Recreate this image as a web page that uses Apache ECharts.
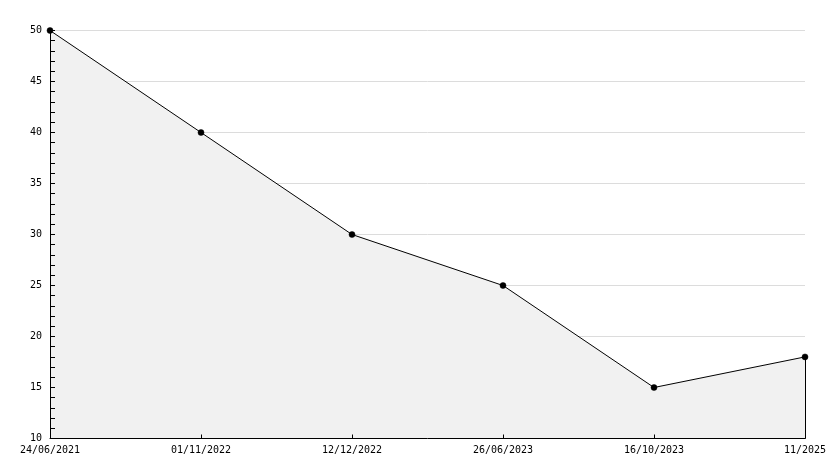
<!DOCTYPE html>
<html>
<head>
<meta charset="utf-8">
<script src="https://cdn.jsdelivr.net/npm/echarts@6/dist/echarts.min.js"></script>
<style>html,body{margin:0;padding:0;background:#fff;}#c{width:834px;height:468px;}</style>
</head>
<body>
<div id="c"></div>
<script>
const categories = ['24/06/2021', '01/11/2022', '12/12/2022', '26/06/2023', '16/10/2023', '11/2025'];
const values = [50, 40, 30, 25, 15, 18];
const yMin = 10, yMax = 50, yStep = 5;

const chart = echarts.init(document.getElementById('c'), null, {renderer: 'canvas'});
const font = {fontFamily: 'DejaVu Sans Mono', fontSize: 10, color: '#000'};
chart.setOption({
  animation: false,
  backgroundColor: '#fff',
  grid: {left: 50, right: 29, top: 30.5, bottom: 29.5},
  xAxis: {
    type: 'category',
    z: 10,
    data: categories,
    boundaryGap: false,
    axisLine: {lineStyle: {color: '#000', width: 1}},
    axisTick: {inside: true, length: 4, lineStyle: {color: '#000'}},
    axisLabel: Object.assign({margin: 7}, font),
    splitLine: {show: false}
  },
  yAxis: [{
    type: 'value',
    z: 10,
    min: yMin, max: yMax, interval: yStep,
    axisLine: {show: true, lineStyle: {color: '#000', width: 1}},
    axisTick: {show: true, inside: true, length: 5, lineStyle: {color: '#000'}},
    minorTick: {show: true, splitNumber: 5, length: 5, lineStyle: {color: '#000'}},
    axisLabel: Object.assign({margin: 8}, font),
    splitLine: {show: false}
  }, {
    type: 'value',
    z: 0,
    position: 'left',
    min: yMin, max: yMax, interval: yStep,
    axisLine: {show: false},
    axisTick: {show: false},
    axisLabel: {show: false},
    splitLine: {show: true, lineStyle: {color: '#dcdcdc', width: 1}}
  }],
  series: [{
    type: 'line',
    z: 1,
    yAxisIndex: 0,
    data: values,
    symbol: 'none',
    lineStyle: {width: 0, opacity: 0},
    areaStyle: {color: '#f1f1f1', opacity: 1, origin: 'start'}
  }, {
    type: 'line',
    z: 20,
    yAxisIndex: 0,
    data: values,
    symbol: 'circle',
    symbolSize: 6,
    itemStyle: {color: '#000', borderColor: '#000', borderWidth: 0.5},
    lineStyle: {color: '#000', width: 1},
    markLine: {
      silent: true,
      symbol: ['none', 'none'],
      label: {show: false},
      lineStyle: {color: '#000', width: 1, type: 'solid'},
      data: [[{coord: [categories.length - 1, values[values.length - 1]]}, {coord: [categories.length - 1, yMin]}]]
    }
  }]
});
</script>
</body>
</html>
